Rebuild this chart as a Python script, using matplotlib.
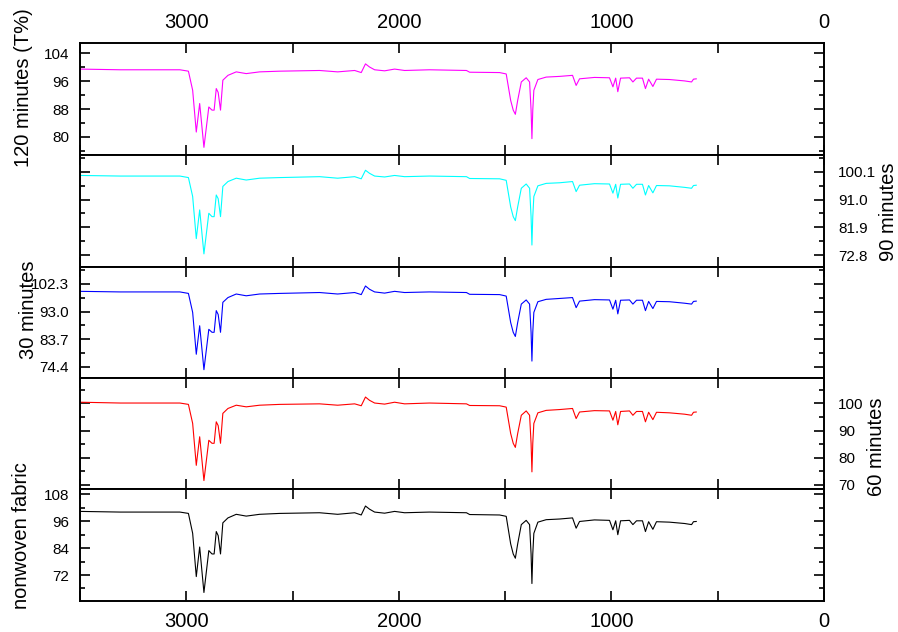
import matplotlib
matplotlib.use("Agg")
import matplotlib.pyplot as plt
from matplotlib.ticker import MultipleLocator, FixedLocator

plt.rcParams["font.family"] = ["Liberation Sans", "DejaVu Sans"]

# ── FTIR spectra (wavenumber cm-1, transmittance %) ───────────
wavenumber = [3500, 3310, 3170, 3030, 2990, 2970, 2953, 2937, 2917, 2894, 2879, 2869,
              2859, 2850, 2839, 2828, 2804, 2765, 2718, 2655, 2561, 2373, 2288, 2208,
              2177, 2157, 2138, 2114, 2067, 2020, 1973, 1856, 1682, 1667, 1526, 1495,
              1474, 1462, 1452, 1441, 1424, 1401, 1385, 1378, 1374, 1370, 1365, 1346,
              1307, 1244, 1183, 1166, 1150, 1080, 1009, 993, 980, 970, 957, 915,
              899, 882, 854, 840, 825, 805, 788, 727, 656, 623, 614, 601]

t_120 = [99.5, 99.3, 99.3, 99.3, 98.9, 93.4, 81.4, 89.6, 77.0, 88.6, 87.7, 87.7,
         93.9, 92.8, 87.7, 96.3, 97.7, 98.7, 98.2, 98.7, 98.9, 99.1, 98.7, 99.1,
         98.5, 101.0, 100.1, 99.3, 99.0, 99.5, 99.1, 99.3, 99.1, 98.6, 98.5, 98.1,
         90.5, 87.7, 86.5, 90.5, 95.8, 97.0, 95.8, 87.7, 79.5, 87.7, 93.4, 96.5,
         97.2, 97.4, 97.7, 94.8, 96.7, 97.1, 97.0, 94.4, 96.9, 93.0, 96.9, 97.0,
         95.8, 96.9, 96.9, 93.9, 96.6, 94.5, 96.6, 96.5, 96.1, 95.8, 96.6, 96.7]

t_90 = [98.9, 98.7, 98.7, 98.7, 98.2, 92.0, 78.2, 87.6, 73.2, 86.5, 85.4, 85.4,
        92.5, 91.3, 85.4, 95.3, 96.9, 98.0, 97.4, 98.0, 98.2, 98.5, 98.0, 98.5,
        97.8, 100.6, 99.6, 98.7, 98.4, 98.9, 98.5, 98.7, 98.5, 97.9, 97.8, 97.3,
        88.6, 85.4, 84.1, 88.6, 94.7, 96.1, 94.7, 85.4, 76.1, 85.4, 92.0, 95.5,
        96.3, 96.5, 96.9, 93.6, 95.7, 96.2, 96.1, 93.1, 96.0, 91.5, 96.0, 96.1,
        94.7, 96.0, 96.0, 92.5, 95.6, 93.2, 95.6, 95.5, 95.0, 94.7, 95.6, 95.7]

t_30 = [99.8, 99.6, 99.6, 99.6, 99.1, 92.7, 78.6, 88.2, 73.4, 87.0, 86.0, 86.0,
        93.3, 92.0, 86.0, 96.1, 97.7, 98.9, 98.3, 98.9, 99.1, 99.4, 98.9, 99.4,
        98.7, 101.6, 100.5, 99.6, 99.2, 99.8, 99.4, 99.6, 99.4, 98.8, 98.7, 98.2,
        89.3, 86.0, 84.6, 89.3, 95.5, 96.9, 95.5, 86.0, 76.3, 86.0, 92.7, 96.3,
        97.1, 97.4, 97.7, 94.3, 96.5, 97.0, 96.9, 93.8, 96.8, 92.2, 96.8, 96.9,
        95.5, 96.8, 96.8, 93.3, 96.4, 94.0, 96.4, 96.3, 95.8, 95.5, 96.4, 96.5]

t_60 = [100.4, 100.1, 100.1, 100.1, 99.6, 92.6, 77.2, 87.7, 71.6, 86.4, 85.3, 85.3,
        93.2, 91.8, 85.3, 96.3, 98.1, 99.3, 98.7, 99.3, 99.6, 99.8, 99.3, 99.8,
        99.1, 102.3, 101.1, 100.1, 99.7, 100.4, 99.8, 100.1, 99.8, 99.2, 99.1, 98.6,
        88.9, 85.3, 83.8, 88.9, 95.6, 97.2, 95.6, 85.3, 74.8, 85.3, 92.6, 96.5,
        97.4, 97.7, 98.1, 94.4, 96.8, 97.3, 97.2, 93.8, 97.0, 92.1, 97.0, 97.2,
        95.6, 97.0, 97.0, 93.2, 96.7, 94.0, 96.7, 96.5, 96.0, 95.6, 96.7, 96.8]

t_fabric = [100.4, 100.1, 100.1, 100.1, 99.5, 90.6, 71.3, 84.5, 64.2, 82.9, 81.4, 81.4,
            91.4, 89.6, 81.4, 95.3, 97.5, 99.1, 98.3, 99.1, 99.5, 99.8, 99.1, 99.8,
            98.8, 102.8, 101.4, 100.1, 99.6, 100.4, 99.8, 100.1, 99.8, 99.0, 98.8, 98.2,
            85.9, 81.4, 79.5, 85.9, 94.5, 96.4, 94.5, 81.4, 68.2, 81.4, 90.6, 95.6,
            96.7, 97.0, 97.5, 92.9, 95.9, 96.6, 96.4, 92.2, 96.2, 90.0, 96.2, 96.4,
            94.5, 96.2, 96.2, 91.4, 95.8, 92.4, 95.8, 95.6, 95.0, 94.5, 95.8, 95.9]

# panels from top to bottom: (data, colour, y ticks, y limits, label side)
paneles = [
    (t_120,    "#ff00ff", [80, 88, 96, 104],         (74.8, 107.0), "left"),
    (t_90,     "#00ffff", [72.8, 81.9, 91.0, 100.1], (68.9, 105.6), "right"),
    (t_30,     "#0000ff", [74.4, 83.7, 93.0, 102.3], (70.6, 108.0), "left"),
    (t_60,     "#ff0000", [70, 80, 90, 100],         (68.5, 109.3), "right"),
    (t_fabric, "#000000", [72, 84, 96, 108],         (60.4, 110.4), "left"),
]
formatos = ["{:.0f}", "{:.1f}", "{:.1f}", "{:.0f}", "{:.0f}"]

W, H = 898, 632
fig = plt.figure(figsize=(W / 100, H / 100), dpi=100)
bordes = [43, 155, 267, 378, 489, 601]
x0, x1 = 80, 824

for i, (t, color, yt, ylim, lado) in enumerate(paneles):
    top, bot = bordes[i], bordes[i + 1]
    ax = fig.add_axes([x0 / W, (H - bot) / H, (x1 - x0) / W, (bot - top) / H])
    ax.plot(wavenumber, t, color=color, linewidth=0.8)
    ax.set_xlim(3500, 0)
    ax.set_ylim(*ylim)

    ax.xaxis.set_major_locator(MultipleLocator(1000))
    ax.xaxis.set_minor_locator(MultipleLocator(500))
    paso = yt[1] - yt[0]
    ax.yaxis.set_major_locator(FixedLocator(yt))
    menores = [v + paso / 2 for v in [yt[0] - paso] + yt]
    ax.yaxis.set_minor_locator(FixedLocator(menores))
    ax.set_yticklabels([formatos[i].format(v) for v in yt])

    ax.tick_params(axis="both", which="both", direction="in", width=1.2,
                   top=True, bottom=True, left=True, right=True)
    ax.tick_params(axis="x", which="both", length=7, labelsize=14.5, pad=8,
                   labeltop=(i == 0), labelbottom=(i == 4))
    ax.tick_params(axis="y", which="major", length=7, labelsize=11)
    ax.tick_params(axis="y", which="minor", length=3.5)
    if lado == "left":
        ax.tick_params(axis="y", labelleft=True, labelright=False, pad=8)
    else:
        ax.tick_params(axis="y", labelleft=False, labelright=True, pad=10)
    for s in ax.spines.values():
        s.set_linewidth(1.4)

# ── Etiquetas de cada espectro ────────────────────────────────
etiquetas = [
    ("120 minutes (T%)", 24, 88),
    ("90 minutes", 888, 212),
    ("30 minutes", 28, 310),
    ("60 minutes", 877, 447),
    ("nonwoven fabric", 22, 536),
]
for txt, px, py in etiquetas:
    fig.text(px / W, (H - py) / H, txt, rotation=90, ha="center", va="center",
             fontsize=14.5)

plt.savefig("out.png", dpi=100)
